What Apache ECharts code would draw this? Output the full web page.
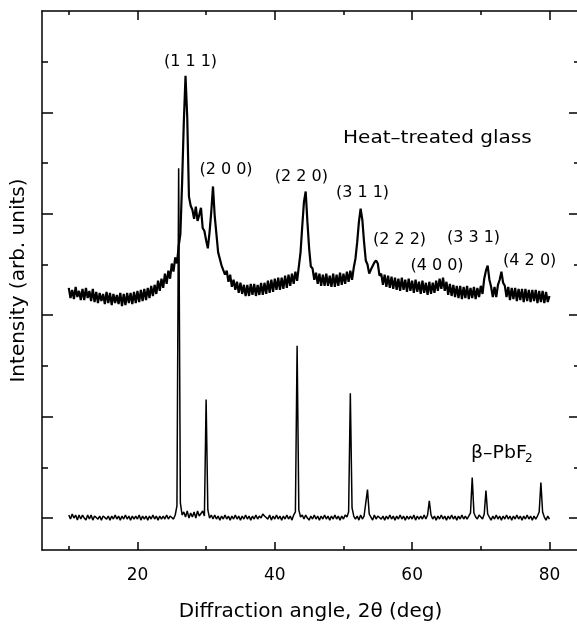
<!DOCTYPE html>
<html><head><meta charset="utf-8">
<script src="https://cdn.jsdelivr.net/npm/echarts@6/dist/echarts.min.js"></script>
<style>html,body{margin:0;padding:0;background:#fff}#c{width:577px;height:625px}</style>
</head><body><div id="c"></div>
<script>
// ---- data (2θ from 10° to 80°, step 0.25°) ----
const angleStart = 10;
const angleStep = 0.25;

const glassIntensity = [
2.27,2.17,2.25,2.16, 2.28,2.18,2.24,2.15, 2.26,2.15,2.27,2.17, 2.24,2.14,2.26,2.13,
2.23,2.12,2.22,2.14, 2.21,2.11,2.23,2.12, 2.22,2.10,2.21,2.12, 2.20,2.11,2.22,2.09,
2.21,2.10,2.22,2.12, 2.22,2.11,2.23,2.12, 2.24,2.13,2.25,2.14, 2.26,2.15,2.27,2.17,
2.29,2.19,2.30,2.21, 2.34,2.24,2.36,2.27, 2.41,2.31,2.44,2.36, 2.51,2.43,2.57,2.51,
2.68,2.80,3.30,3.90, 4.36,3.95,3.17,3.08, 3.04,2.95,3.07,2.93, 2.99,3.06,2.86,2.83,
2.74,2.66,2.82,3.02, 3.27,2.98,2.80,2.62, 2.61,2.49,2.50,2.40, 2.44,2.33,2.40,2.28,
2.35,2.25,2.33,2.22, 2.32,2.21,2.30,2.19, 2.30,2.19,2.31,2.20, 2.31,2.19,2.30,2.20,
2.32,2.20,2.32,2.21, 2.34,2.22,2.35,2.23, 2.36,2.25,2.37,2.25, 2.37,2.26,2.39,2.27,
2.40,2.29,2.41,2.31, 2.43,2.34,2.48,2.62, 2.88,3.12,3.22,2.92, 2.66,2.48,2.46,2.35,
2.42,2.31,2.41,2.29, 2.40,2.29,2.41,2.29, 2.39,2.28,2.41,2.28, 2.40,2.29,2.42,2.30,
2.41,2.31,2.43,2.33, 2.44,2.35,2.47,2.56, 2.72,2.92,3.05,2.94, 2.72,2.54,2.50,2.41,
2.45,2.44,2.52,2.54, 2.51,2.39,2.41,2.30, 2.40,2.28,2.39,2.27, 2.38,2.26,2.37,2.25,
2.36,2.24,2.37,2.25, 2.35,2.23,2.36,2.24, 2.34,2.22,2.35,2.23, 2.33,2.21,2.34,2.22,
2.32,2.20,2.33,2.21, 2.32,2.22,2.34,2.24, 2.36,2.26,2.37,2.24, 2.33,2.20,2.31,2.19,
2.30,2.18,2.29,2.17, 2.29,2.16,2.28,2.17, 2.29,2.16,2.27,2.17, 2.28,2.16,2.27,2.18,
2.29,2.21,2.36,2.44, 2.49,2.35,2.28,2.18, 2.28,2.18,2.30,2.35, 2.43,2.32,2.29,2.18,
2.28,2.15,2.27,2.16, 2.27,2.14,2.26,2.15, 2.26,2.13,2.26,2.14, 2.25,2.13,2.25,2.14,
2.25,2.12,2.24,2.13, 2.24,2.12,2.23,2.13,
2.19
];

const pbf2Intensity = [
0.03,-0.01,0.04,0.00, 0.03,-0.02,0.03,-0.01, 0.03,0.00,-0.02,0.03, -0.01,0.03,-0.02,0.02,
0.03,-0.01,0.02,-0.02, 0.02,0.03,-0.01,0.02, -0.02,0.02,-0.01,0.03, -0.01,0.02,-0.02,0.02,
-0.01,0.03,-0.01,0.02, -0.02,0.02,-0.01,0.02, -0.01,0.03,-0.02,0.02, -0.01,0.02,-0.02,0.02,
-0.01,0.03,-0.01,0.02, -0.02,0.02,-0.01,0.02, -0.01,0.03,-0.01,0.02, 0.02,-0.01,0.03,0.12,
3.45,0.15,0.03,0.06, 0.01,0.07,0.00,0.05, 0.01,0.06,0.00,0.07, 0.02,0.01,0.07,0.02,
1.17,0.08,0.00,0.03, -0.01,0.03,-0.01,0.02, -0.02,0.02,-0.01,0.03, -0.01,0.02,-0.02,0.02,
-0.01,0.03,-0.01,0.02, -0.02,0.02,-0.01,0.03, -0.01,0.02,-0.02,0.02, -0.01,0.03,-0.01,0.02,
0.00,0.04,0.02,0.01, -0.01,0.03,-0.02,0.02, -0.01,0.03,-0.01,0.02, -0.02,0.02,-0.01,0.03,
-0.01,0.02,-0.02,0.03, 0.06,1.70,0.08,0.01, 0.03,-0.01,0.03,0.00, -0.02,0.02,-0.01,0.03,
-0.01,0.02,-0.02,0.02, -0.01,0.03,-0.01,0.02, -0.02,0.02,-0.01,0.03, -0.01,0.02,-0.02,0.02,
-0.01,0.03,0.01,0.06, 1.23,0.10,0.02,-0.01, 0.02,-0.02,0.03,-0.01, 0.02,0.03,0.28,0.04,
0.01,-0.02,0.03,-0.01, 0.02,0.03,-0.01,0.02, -0.02,0.02,-0.01,0.03, -0.01,0.02,-0.02,0.02,
-0.01,0.03,-0.01,0.02, -0.02,0.02,-0.01,0.02, -0.01,0.03,-0.02,0.02, -0.01,0.02,-0.01,0.03,
-0.01,0.03,0.17,0.03, -0.01,0.02,-0.02,0.02, -0.01,0.03,-0.01,0.02, -0.02,0.02,-0.01,0.03,
-0.01,0.02,-0.02,0.02, -0.01,0.03,-0.01,0.02, -0.01,0.02,0.05,0.40, 0.05,0.01,-0.01,0.03,
0.01,-0.01,0.04,0.27, 0.04,0.01,-0.02,0.02, -0.01,0.03,-0.01,0.02, -0.02,0.02,-0.01,0.03,
-0.01,0.02,-0.02,0.02, -0.01,0.03,-0.01,0.02, -0.02,0.02,-0.01,0.03, -0.01,0.02,-0.02,0.02,
-0.01,0.02,0.06,0.35, 0.06,0.01,-0.02,0.02,
-0.01
];

const xMajorTicks = [20, 40, 60, 80];
const xMinorTicks = [10, 30, 50, 70];
const yMajorTicks = [0, 1, 2, 3, 4];
const yMinorTicks = [0.5, 1.5, 2.5, 3.5, 4.5];

const hklLabels = ['(1 1 1)', '(2 0 0)', '(2 2 0)', '(3 1 1)', '(2 2 2)', '(4 0 0)', '(3 3 1)', '(4 2 0)'];
const glassLabel = 'Heat\u2013treated glass';
const pbf2Label = '\u03b2\u2013PbF';
const pbf2Sub = '2';
const xTitle = 'Diffraction angle, 2\u03b8 (deg)';
const yTitle = 'Intensity (arb. units)';

// ---- layout ----
const X_MIN = 6.1, X_MAX = 84.3, Y_MIN = -0.315, Y_MAX = 5.0;
const FONT = '"DejaVu Sans", sans-serif';
const hklPos = [[190.5, 62], [226, 170], [301.3, 176.5], [362.5, 193], [399.5, 240], [437, 266], [473.5, 238], [529.7, 261]];

const angles = glassIntensity.map((_, i) => angleStart + i * angleStep);
const toPairs = vals => vals.map((v, i) => [angles[i], v]);

const black = { color: '#000', width: 1.5 };
function xAx(position, ticks, len, showLine, showLabel, extra) {
  return Object.assign({
    type: 'value', position, min: X_MIN, max: X_MAX, gridIndex: 0,
    axisLine: { show: showLine, onZero: false, lineStyle: black },
    axisTick: { show: true, inside: true, length: len, customValues: ticks, lineStyle: black },
    axisLabel: { show: showLabel, customValues: ticks, margin: 17, color: '#000', fontSize: 17, fontFamily: FONT },
    splitLine: { show: false }
  }, extra || {});
}
function yAx(position, ticks, len, showLine, extra) {
  return Object.assign({
    type: 'value', position, min: Y_MIN, max: Y_MAX, gridIndex: 0,
    axisLine: { show: showLine, onZero: false, lineStyle: black },
    axisTick: { show: true, inside: true, length: len, customValues: ticks, lineStyle: black },
    axisLabel: { show: false },
    splitLine: { show: false }
  }, extra || {});
}

const graphics = hklLabels.map((t, i) => ({
  type: 'text', x: hklPos[i][0], y: hklPos[i][1],
  style: { text: t, x: 0, y: 0, fill: '#000', font: '16px ' + FONT,
           textAlign: 'center', textVerticalAlign: 'middle', align: 'center', verticalAlign: 'middle' }
}));
graphics.push({
  type: 'text', x: 343, y: 139, scaleX: 1.18,
  style: { text: glassLabel, x: 0, y: 0, fill: '#000', font: '17px ' + FONT,
           textAlign: 'left', textVerticalAlign: 'middle', align: 'left', verticalAlign: 'middle' }
});
graphics.push({
  type: 'text', x: 471, y: 453, scaleX: 1.05,
  style: { text: pbf2Label, x: 0, y: 0, fill: '#000', font: '18px ' + FONT,
           textAlign: 'left', textVerticalAlign: 'middle', align: 'left', verticalAlign: 'middle' }
});
graphics.push({
  type: 'text', x: 525, y: 459,
  style: { text: pbf2Sub, x: 0, y: 0, fill: '#000', font: '12px ' + FONT,
           textAlign: 'left', textVerticalAlign: 'middle', align: 'left', verticalAlign: 'middle' }
});

const chart = echarts.init(document.getElementById('c'), null, { renderer: 'canvas' });
chart.setOption({
  animation: false,
  backgroundColor: '#fff',
  grid: { left: 42, right: -2, top: 11, bottom: 75, containLabel: false, outerBoundsMode: 'none' },
  xAxis: [
    xAx('bottom', xMajorTicks, 8, true, true, {
      name: xTitle, nameLocation: 'middle', nameGap: 52,
      nameTextStyle: { fontSize: 20, fontFamily: FONT, color: '#000' }
    }),
    xAx('bottom', xMinorTicks, 4, false, false),
    xAx('top', xMajorTicks, 9, true, false),
    xAx('top', xMinorTicks, 4, false, false)
  ],
  yAxis: [
    yAx('left', yMajorTicks, 11, true, {
      name: yTitle, nameLocation: 'middle', nameGap: 13,
      nameTextStyle: { fontSize: 20, fontFamily: FONT, color: '#000' }
    }),
    yAx('left', yMinorTicks, 6, false),
    yAx('right', yMajorTicks, 10, true),
    yAx('right', yMinorTicks, 5, false)
  ],
  series: [
    { name: 'Heat-treated glass', type: 'line', xAxisIndex: 0, yAxisIndex: 0, data: toPairs(glassIntensity),
      showSymbol: false, symbol: 'none', lineStyle: { color: '#000', width: 2.2 }, silent: true },
    { name: 'beta-PbF2', type: 'line', xAxisIndex: 0, yAxisIndex: 0, data: toPairs(pbf2Intensity),
      showSymbol: false, symbol: 'none', lineStyle: { color: '#000', width: 1.5 }, silent: true }
  ],
  graphic: graphics
});
</script>
</body></html>
